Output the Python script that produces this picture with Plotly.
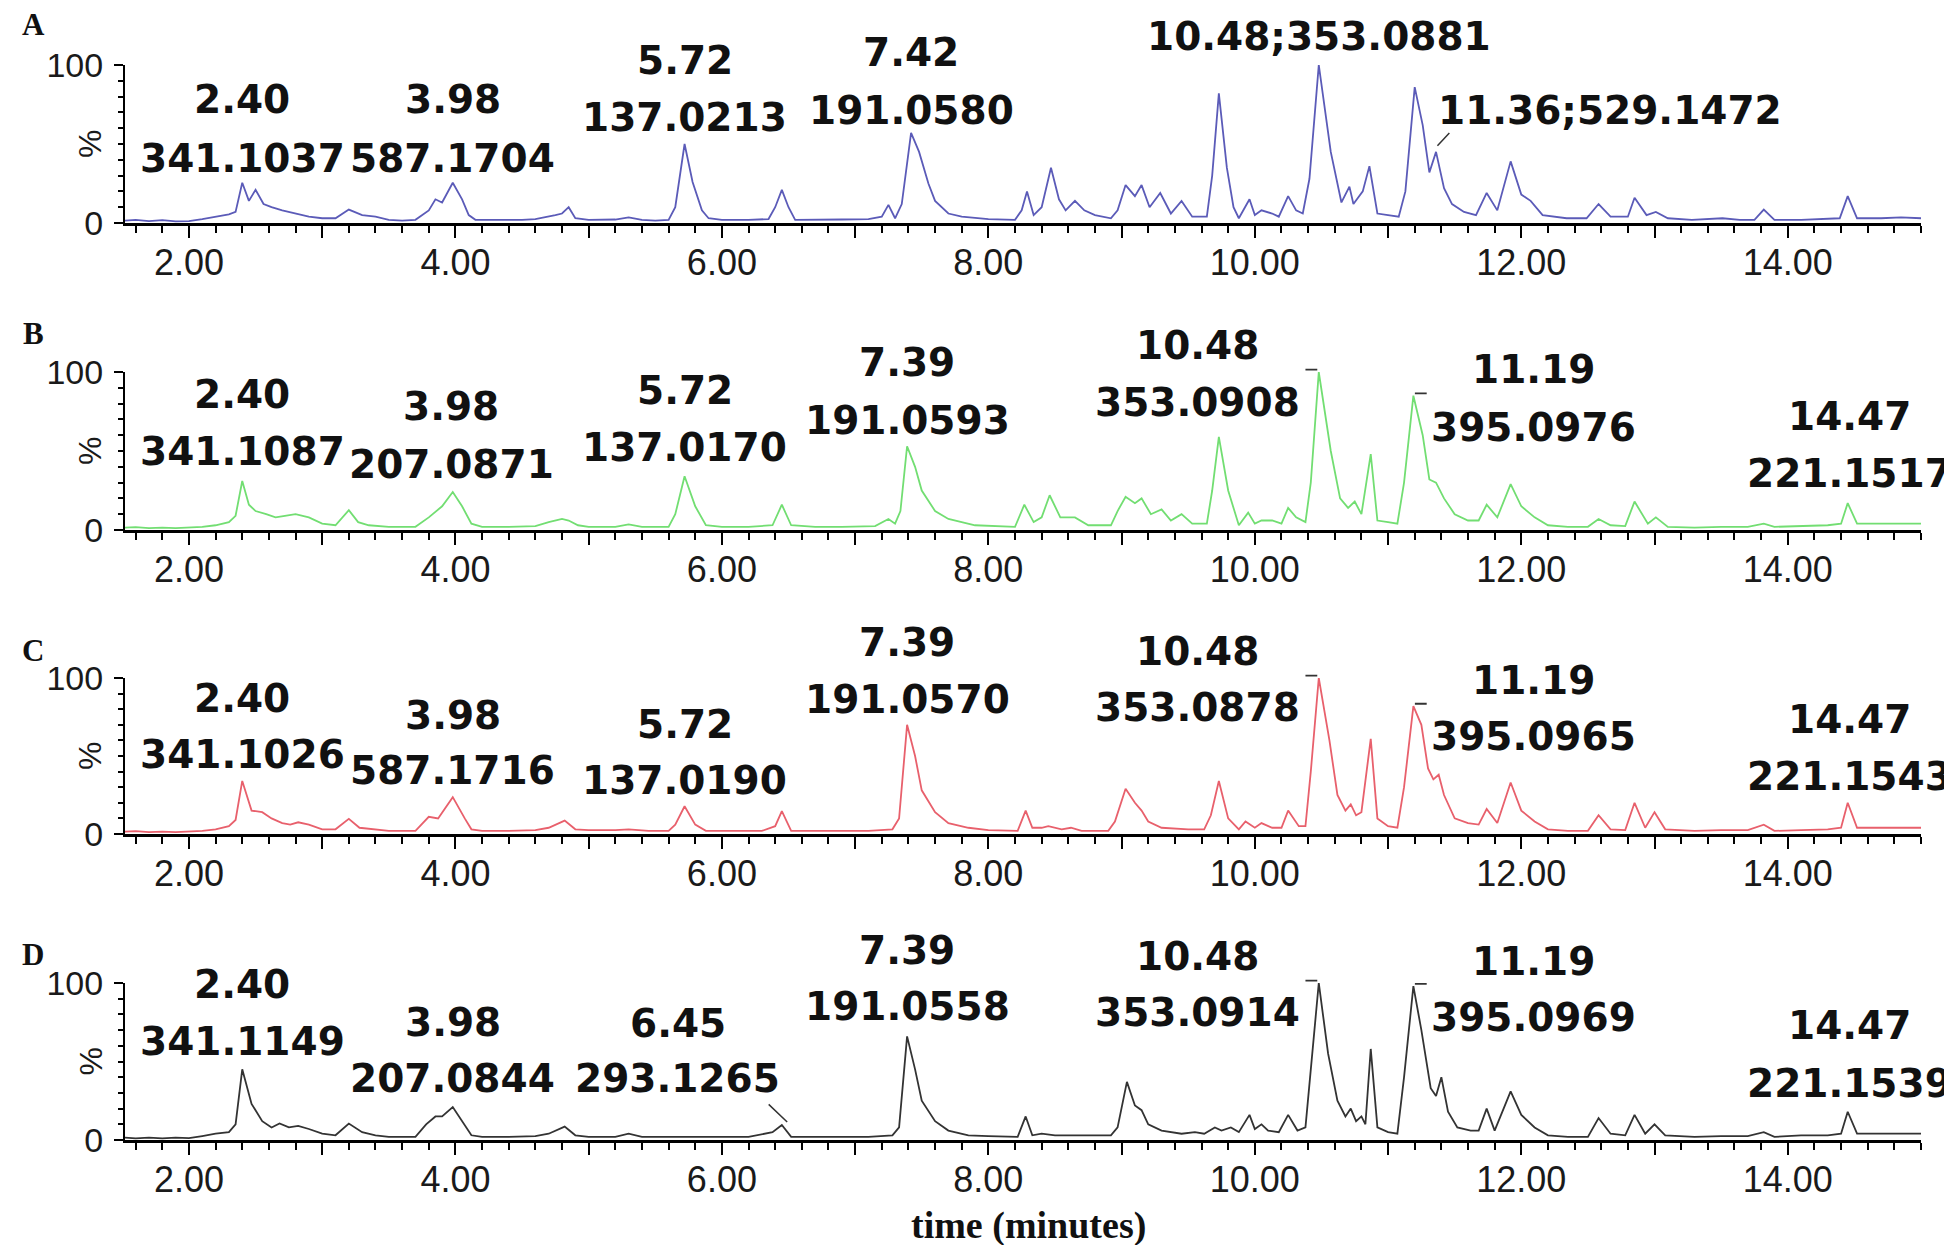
import plotly.graph_objects as go

# ---------------- data (time in minutes, relative intensity in %) ----------------
A_points = [(1.52,1.5),(1.6,2.0),(1.7,1.2),(1.8,1.8),(1.9,1.0),(2.0,1.2),(2.1,2.5),(2.2,4.0),(2.3,5.5),(2.35,7.0),
            (2.40,25.5),(2.45,14.0),(2.50,21.0),(2.56,12.0),(2.62,10.0),(2.7,8.0),(2.8,6.0),(2.9,4.0),(3.0,3.0),(3.1,3.0),
            (3.2,8.5),(3.3,5.0),(3.4,4.0),(3.5,2.0),(3.6,1.5),(3.7,2.0),(3.8,8.0),(3.85,15.0),(3.9,13.0),(3.98,25.5),
            (4.05,15.0),(4.1,5.0),(4.15,2.0),(4.3,1.8),(4.5,2.0),(4.6,2.5),(4.7,4.0),(4.75,5.0),(4.8,6.0),(4.85,10.0),
            (4.9,3.0),(5.0,2.0),(5.2,2.2),(5.3,3.5),(5.4,2.0),(5.5,1.5),(5.6,2.0),(5.65,10.0),(5.72,50.0),(5.78,26.0),
            (5.85,8.0),(5.9,3.0),(6.0,2.0),(6.2,2.0),(6.35,2.5),(6.4,10.0),(6.45,21.0),(6.5,10.0),(6.55,2.0),(6.7,2.0),
            (6.9,2.2),(7.1,2.5),(7.2,4.0),(7.25,11.5),(7.3,3.0),(7.35,12.0),(7.42,57.0),(7.48,45.0),(7.55,25.0),(7.6,14.0),
            (7.7,6.0),(7.8,4.0),(8.0,2.5),(8.2,2.0),(8.25,8.0),(8.29,20.0),(8.34,5.0),(8.4,10.0),(8.47,35.0),(8.53,15.0),
            (8.58,8.0),(8.65,14.0),(8.72,8.0),(8.8,5.0),(8.92,3.0),(8.97,8.0),(9.03,24.0),(9.1,17.0),(9.15,24.0),(9.21,10.0),
            (9.29,19.0),(9.37,6.0),(9.45,14.0),(9.53,4.0),(9.64,4.0),(9.68,30.0),(9.73,82.0),(9.79,35.0),(9.84,10.0),(9.88,3.0),
            (9.96,15.0),(10.0,5.0),(10.05,8.0),(10.13,6.0),(10.18,4.0),(10.25,17.0),(10.31,8.0),(10.36,6.0),(10.41,28.0),(10.48,100.0),
            (10.57,45.0),(10.65,13.0),(10.71,23.0),(10.74,12.0),(10.81,20.0),(10.86,36.0),(10.92,6.0),(11.0,5.0),(11.08,4.0),(11.13,20.0),
            (11.20,86.0),(11.26,62.0),(11.31,32.0),(11.36,45.0),(11.42,22.0),(11.48,12.0),(11.57,7.0),(11.66,5.0),(11.74,19.0),(11.82,8.0),
            (11.92,39.0),(12.0,18.0),(12.07,14.0),(12.16,5.0),(12.34,3.0),(12.49,3.0),(12.58,12.0),(12.67,4.0),(12.8,4.0),(12.85,16.0),
            (12.94,5.0),(13.01,7.0),(13.1,3.0),(13.28,2.0),(13.51,3.0),(13.64,2.0),(13.75,2.0),(13.82,8.5),(13.9,2.0),(14.1,2.0),
            (14.3,2.5),(14.39,3.0),(14.45,17.0),(14.52,3.0),(14.7,3.0),(14.85,3.5),(15.0,3.0)]

B_points = [(1.52,1.5),(1.6,1.8),(1.7,1.2),(1.8,1.5),(1.9,1.2),(2.0,1.5),(2.1,2.0),(2.2,3.0),(2.3,5.0),(2.35,9.0),
            (2.40,31.0),(2.45,16.0),(2.5,12.0),(2.58,10.0),(2.65,8.0),(2.72,9.0),(2.8,10.0),(2.9,8.0),(3.0,4.0),(3.1,3.0),
            (3.2,12.5),(3.27,5.0),(3.35,3.0),(3.5,2.0),(3.7,2.0),(3.8,8.0),(3.86,12.0),(3.9,15.0),(3.98,24.0),(4.05,15.0),
            (4.12,4.0),(4.2,2.0),(4.4,2.0),(4.6,2.5),(4.7,5.0),(4.8,7.0),(4.85,6.0),(4.92,3.0),(5.0,2.0),(5.2,2.0),
            (5.3,3.5),(5.4,2.0),(5.6,2.0),(5.65,10.0),(5.72,34.0),(5.8,15.0),(5.88,3.0),(6.0,2.0),(6.2,2.0),(6.38,3.0),
            (6.45,16.0),(6.52,3.0),(6.7,2.0),(6.9,2.0),(7.15,2.5),(7.25,7.0),(7.3,4.0),(7.34,12.0),(7.39,53.0),(7.45,40.0),
            (7.5,25.0),(7.6,12.0),(7.7,7.0),(7.9,3.0),(8.2,2.0),(8.27,16.0),(8.34,5.0),(8.4,8.0),(8.46,22.0),(8.54,8.0),
            (8.65,8.0),(8.75,3.0),(8.92,3.0),(8.97,12.0),(9.03,21.0),(9.1,17.0),(9.15,20.0),(9.22,10.0),(9.3,13.0),(9.37,6.0),
            (9.45,10.0),(9.53,4.0),(9.64,4.0),(9.68,25.0),(9.73,59.0),(9.8,25.0),(9.88,3.0),(9.95,11.0),(10.0,4.0),(10.05,6.0),
            (10.13,6.0),(10.2,4.0),(10.25,14.0),(10.31,8.0),(10.38,5.0),(10.42,30.0),(10.48,100.0),(10.57,50.0),(10.64,20.0),(10.7,14.0),
            (10.75,18.0),(10.8,10.0),(10.87,48.0),(10.92,6.0),(11.0,5.0),(11.07,4.0),(11.12,30.0),(11.19,85.0),(11.26,60.0),(11.31,32.0),
            (11.36,30.0),(11.42,20.0),(11.5,10.0),(11.6,6.0),(11.68,6.0),(11.74,16.0),(11.82,8.0),(11.92,29.0),(12.0,15.0),(12.1,8.0),
            (12.2,3.0),(12.35,2.0),(12.5,2.0),(12.58,7.0),(12.67,3.0),(12.78,2.5),(12.85,18.0),(12.95,4.0),(13.01,8.0),(13.1,2.0),
            (13.3,1.5),(13.5,2.0),(13.7,2.0),(13.82,4.0),(13.9,2.0),(14.1,2.5),(14.3,3.0),(14.4,4.0),(14.45,17.0),(14.52,4.0),
            (14.7,4.0),(15.0,4.0)]

C_points = [(1.52,1.5),(1.6,1.8),(1.7,1.2),(1.8,1.5),(1.9,1.2),(2.0,1.5),(2.1,2.0),(2.2,3.0),(2.3,5.0),(2.35,9.0),
            (2.40,34.0),(2.47,15.0),(2.55,14.0),(2.62,10.0),(2.7,7.0),(2.76,6.0),(2.82,7.5),(2.9,6.0),(3.0,3.0),(3.1,3.0),
            (3.2,9.7),(3.28,4.0),(3.4,3.0),(3.5,2.0),(3.7,2.0),(3.8,11.0),(3.87,10.0),(3.98,23.6),(4.07,10.0),(4.12,3.0),
            (4.2,2.0),(4.4,2.0),(4.6,2.5),(4.7,4.0),(4.82,8.6),(4.9,3.0),(5.0,2.5),(5.2,2.5),(5.3,3.0),(5.45,2.0),
            (5.6,2.0),(5.65,6.0),(5.72,17.8),(5.8,6.0),(5.88,2.0),(6.1,2.0),(6.3,2.0),(6.4,5.0),(6.45,14.6),(6.52,2.0),
            (6.7,2.0),(6.9,2.0),(7.1,2.0),(7.28,3.0),(7.33,10.0),(7.39,70.0),(7.45,50.0),(7.5,28.0),(7.6,14.0),(7.7,7.0),
            (7.85,4.0),(8.0,2.5),(8.22,2.0),(8.28,15.0),(8.33,4.0),(8.4,4.0),(8.45,5.0),(8.55,3.0),(8.62,4.0),(8.7,2.0),
            (8.9,2.0),(8.95,8.0),(9.03,29.0),(9.1,20.0),(9.15,15.0),(9.2,8.0),(9.3,4.0),(9.5,3.0),(9.62,3.0),(9.67,12.0),
            (9.73,34.0),(9.8,10.0),(9.88,3.0),(9.93,8.0),(10.0,4.0),(10.05,7.0),(10.13,4.0),(10.2,4.0),(10.25,15.0),(10.33,5.0),
            (10.38,5.0),(10.42,40.0),(10.48,100.0),(10.56,60.0),(10.62,25.0),(10.68,15.0),(10.72,19.0),(10.76,12.0),(10.8,14.0),(10.87,61.0),
            (10.92,10.0),(11.0,5.0),(11.07,4.0),(11.12,30.0),(11.19,82.0),(11.25,70.0),(11.3,42.0),(11.34,35.0),(11.38,38.0),(11.42,25.0),
            (11.5,10.0),(11.6,7.0),(11.68,6.0),(11.74,16.0),(11.82,7.0),(11.92,33.0),(12.0,15.0),(12.1,8.0),(12.2,3.0),(12.35,2.0),
            (12.5,2.0),(12.58,12.0),(12.67,3.0),(12.78,2.5),(12.85,20.0),(12.93,4.0),(13.0,14.0),(13.08,3.0),(13.3,2.0),(13.5,2.5),
            (13.7,2.5),(13.82,6.0),(13.9,2.0),(14.1,2.5),(14.3,3.0),(14.4,4.0),(14.45,20.0),(14.52,4.0),(14.7,4.0),(15.0,4.0)]

D_points = [(1.52,1.5),(1.6,1.0),(1.7,1.5),(1.8,1.0),(1.9,1.5),(2.0,1.2),(2.1,2.5),(2.2,4.0),(2.3,5.0),(2.35,10.0),
            (2.40,45.0),(2.47,23.0),(2.55,12.0),(2.62,8.0),(2.68,10.5),(2.75,8.0),(2.82,9.0),(2.9,7.0),(3.0,4.0),(3.1,3.0),
            (3.2,10.5),(3.3,5.0),(3.4,3.0),(3.5,2.0),(3.7,2.0),(3.78,10.0),(3.85,15.0),(3.9,15.0),(3.98,21.0),(4.05,12.0),
            (4.12,3.0),(4.2,2.0),(4.4,2.0),(4.6,2.5),(4.7,4.0),(4.82,8.5),(4.9,3.0),(5.0,2.0),(5.2,2.0),(5.3,4.0),
            (5.4,2.0),(5.6,2.0),(5.8,2.0),(6.0,2.0),(6.2,2.0),(6.38,5.0),(6.45,9.6),(6.52,2.0),(6.7,2.0),(6.9,2.0),
            (7.1,2.0),(7.28,3.0),(7.33,8.0),(7.39,66.0),(7.45,45.0),(7.5,25.0),(7.6,12.0),(7.7,6.0),(7.85,3.0),(8.0,2.5),
            (8.22,2.0),(8.28,15.0),(8.33,3.0),(8.4,4.0),(8.5,3.0),(8.7,3.0),(8.92,3.0),(8.97,8.0),(9.04,37.0),(9.1,22.0),
            (9.15,19.0),(9.2,10.0),(9.3,6.0),(9.45,4.0),(9.55,5.0),(9.62,4.0),(9.7,8.0),(9.75,6.0),(9.82,8.0),(9.88,5.0),
            (9.96,16.0),(10.0,7.0),(10.05,10.0),(10.1,6.0),(10.18,5.0),(10.25,16.0),(10.32,6.0),(10.38,8.0),(10.42,45.0),(10.48,100.0),
            (10.55,55.0),(10.62,25.0),(10.68,15.0),(10.72,20.0),(10.76,12.0),(10.8,15.0),(10.83,10.0),(10.87,58.0),(10.92,8.0),(11.0,5.0),
            (11.07,4.0),(11.12,40.0),(11.19,98.0),(11.25,70.0),(11.32,33.0),(11.36,28.0),(11.4,40.0),(11.45,18.0),(11.52,8.0),(11.62,6.0),
            (11.68,6.0),(11.74,20.0),(11.8,6.0),(11.92,31.0),(12.0,16.0),(12.1,8.0),(12.2,3.0),(12.35,2.0),(12.5,2.0),(12.58,14.0),
            (12.67,4.0),(12.78,3.0),(12.85,16.0),(12.93,4.0),(13.0,10.0),(13.08,3.0),(13.3,2.0),(13.5,2.5),(13.7,2.5),(13.82,5.0),
            (13.9,2.0),(14.1,3.0),(14.3,3.0),(14.4,4.0),(14.45,18.0),(14.52,4.0),(14.7,4.0),(15.0,4.0)]

panel_names = ["A", "B", "C", "D"]

# peak labels: (retention time line, m/z line)
A_labels = [("2.40", "341.1037"), ("3.98", "587.1704"), ("5.72", "137.0213"), ("7.42", "191.0580"),
            ("10.48;353.0881", ""), ("11.36;529.1472", "")]
B_labels = [("2.40", "341.1087"), ("3.98", "207.0871"), ("5.72", "137.0170"), ("7.39", "191.0593"),
            ("10.48", "353.0908"), ("11.19", "395.0976"), ("14.47", "221.1517")]
C_labels = [("2.40", "341.1026"), ("3.98", "587.1716"), ("5.72", "137.0190"), ("7.39", "191.0570"),
            ("10.48", "353.0878"), ("11.19", "395.0965"), ("14.47", "221.1543")]
D_labels = [("2.40", "341.1149"), ("3.98", "207.0844"), ("6.45", "293.1265"), ("7.39", "191.0558"),
            ("10.48", "353.0914"), ("11.19", "395.0969"), ("14.47", "221.1539")]

x_tick_values = list(range(2, 15))
x_tick_text = [f"{v}.00" if v % 2 == 0 else "" for v in x_tick_values]
y_tick_values = [0, 100]
y_tick_text = ["0", "100"]
x_title = "time (minutes)"
y_title = "%"

# ---------------- layout / style ----------------
W, H = 1944, 1245
line_colors = ["#5b5bb8", "#72de72", "#e8606c", "#333333"]
x_dom = [125 / W, 1921 / W]
panel_px = [(65, 223), (372, 530), (678, 834), (983, 1140)]   # (top=100 %, bottom=0 %)
letter_px = [24, 333, 650, 954]

# label placement: (x in minutes, y of first line, y of second line) in % of panel height
A_pos = [(2.40, 78, 41), (3.98, 78, 41), (5.72, 103, 66.5), (7.42, 108, 71.5), (10.48, 118, None),
         (11.36, 71.5, None, "left")]
B_pos = [(2.40, 86, 49.5), (3.97, 78, 41.5), (5.72, 88, 52), (7.39, 106, 69), (9.57, 117, 80.5),
         (12.09, 101.5, 64.8), (14.46, 72, 36)]
C_pos = [(2.40, 87, 51), (3.98, 76, 40.5), (5.72, 70, 34.3), (7.39, 122.5, 86.2), (9.57, 117, 81),
         (12.09, 98.5, 62.5), (14.46, 73.5, 37)]
D_pos = [(2.40, 99, 63), (3.98, 75, 39), (5.67, 74, 39), (7.39, 121, 85), (9.57, 117, 81),
         (12.09, 114, 78), (14.46, 73, 36)]

# leader lines (x0, y0, x1, y1) and peak top markers (rt, side)
leaders = {0: [(11.36, 48, 11.46, 57)], 3: [(6.34, 23.6, 6.49, 11.5)]}
peak_marks = {1: [(10.48, -1), (11.19, 1)], 2: [(10.48, -1), (11.19, 1)], 3: [(10.48, -1), (11.19, 1)]}

all_points = [A_points, B_points, C_points, D_points]
all_labels = [A_labels, B_labels, C_labels, D_labels]
all_pos = [A_pos, B_pos, C_pos, D_pos]

LABEL_FONT = dict(family="DejaVu Sans", size=39, color="#111111")
TICK_FONT_X = dict(family="Liberation Sans, Arial", size=36, color="#1a1a1a")
TICK_FONT_Y = dict(family="Liberation Sans, Arial", size=34, color="#1a1a1a")

fig = go.Figure()
annotations = []
layout_axes = {}

for i in range(4):
    sfx = "" if i == 0 else str(i + 1)
    xr, yr = "x" + sfx, "y" + sfx
    ydr = yr + " domain"
    pts = all_points[i]
    fig.add_trace(go.Scatter(
        x=[p[0] for p in pts], y=[p[1] for p in pts], mode="lines",
        line=dict(color=line_colors[i], width=1.8), xaxis=xr, yaxis=yr,
        showlegend=False, hoverinfo="skip"))

    top, bot = panel_px[i]
    y_dom = [1 - bot / H, 1 - top / H]
    layout_axes["xaxis" + sfx] = dict(
        domain=x_dom, range=[1.52, 15.0], anchor=yr, showline=True, linecolor="black", linewidth=3,
        ticks="outside", tickmode="array", tickvals=x_tick_values, ticktext=x_tick_text,
        ticklen=12, tickwidth=2, tickcolor="black", tickfont=TICK_FONT_X, automargin=False,
        ticklabelstandoff=-6,
        minor=dict(tickmode="linear", tick0=0, dtick=0.2, ticks="outside", ticklen=7,
                   tickwidth=1.5, tickcolor="black"),
        showgrid=False, zeroline=False, fixedrange=True)
    layout_axes["yaxis" + sfx] = dict(
        domain=y_dom, range=[0, 100], anchor=xr, showline=True, linecolor="black", linewidth=2,
        ticks="outside", tickmode="array", tickvals=y_tick_values, ticktext=y_tick_text,
        ticklen=9, tickwidth=2, tickcolor="black", tickfont=TICK_FONT_Y, ticklabelstandoff=4,
        automargin=False,
        minor=dict(tickmode="linear", tick0=0, dtick=10, ticks="outside", ticklen=5,
                   tickwidth=1.5, tickcolor="black"),
        showgrid=False, zeroline=False, fixedrange=True)

    # peak labels (y given as % of the panel's 0-100 axis -> domain fraction)
    for (l1, l2), pos in zip(all_labels[i], all_pos[i]):
        xa = pos[3] if len(pos) > 3 else "center"
        annotations.append(dict(x=pos[0], y=pos[1] / 100, xref=xr, yref=ydr, text=f"<b>{l1}</b>",
                                showarrow=False, xanchor=xa, yanchor="middle", font=LABEL_FONT))
        if l2:
            annotations.append(dict(x=pos[0], y=pos[2] / 100, xref=xr, yref=ydr, text=f"<b>{l2}</b>",
                                    showarrow=False, xanchor=xa, yanchor="middle", font=LABEL_FONT))
    for (x0, y0, x1, y1) in leaders.get(i, []):
        annotations.append(dict(x=x1, y=y1 / 100, ax=x0, ay=y0 / 100, xref=xr, yref=ydr,
                                axref=xr, ayref=ydr, text="", showarrow=True, arrowhead=0,
                                arrowwidth=1.5, arrowcolor="#333333"))
    for (rt, side) in peak_marks.get(i, []):
        ymax = max(v for t, v in pts if abs(t - rt) < 0.03)
        x_end = rt + side * 0.1
        yy = (ymax + 1.5) / 100
        annotations.append(dict(x=x_end, y=yy, ax=rt, ay=yy, xref=xr, yref=ydr,
                                axref=xr, ayref=ydr, text="", showarrow=True, arrowhead=0,
                                arrowwidth=1.8, arrowcolor="#333333"))

    # y title "%" and panel letter
    annotations.append(dict(x=90 / W, y=1 - (top + bot) / 2 / H, xref="paper", yref="paper",
                            text=y_title, textangle=-90, showarrow=False, xanchor="center",
                            yanchor="middle", font=dict(family="Liberation Sans, Arial", size=32,
                                                        color="#1a1a1a")))
    annotations.append(dict(x=33 / W, y=1 - letter_px[i] / H, xref="paper", yref="paper",
                            text=f"<b>{panel_names[i]}</b>", showarrow=False, xanchor="center",
                            yanchor="middle", font=dict(family="Liberation Serif", size=31,
                                                        color="#111111")))

annotations.append(dict(x=1028 / W, y=1 - 1225 / H, xref="paper", yref="paper",
                        text=f"<b>{x_title}</b>", showarrow=False, xanchor="center", yanchor="middle",
                        font=dict(family="Liberation Serif", size=38, color="#111111")))

fig.update_layout(
    width=W, height=H, autosize=False,
    margin=dict(l=0, r=0, t=0, b=0, pad=0, autoexpand=False),
    paper_bgcolor="white", plot_bgcolor="white", showlegend=False,
    annotations=annotations, **layout_axes)

fig.write_html("out.html", config={"displayModeBar": False},
               post_script="document.body.style.margin='0px';")
